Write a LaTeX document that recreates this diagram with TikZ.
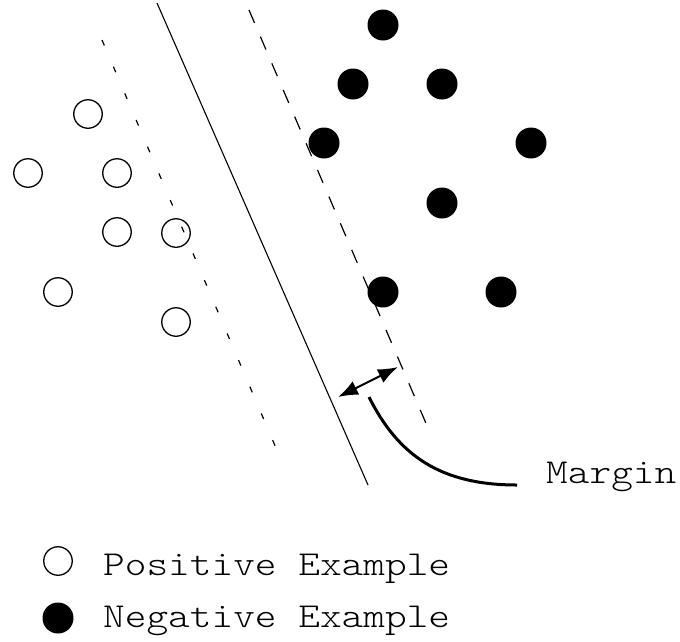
\documentclass[tikz,border=0pt]{standalone}
\usepackage{fontspec}
\newfontfamily\courlike[FakeStretch=1.18]{Latin Modern Mono Light}
\usetikzlibrary{arrows.meta}
\begin{document}
\begin{tikzpicture}[x=1pt,y=-1pt,
  posex/.style={circle,draw,line width=1.3pt,minimum size=28.5pt,inner sep=0pt},
  negex/.style={circle,fill=black,minimum size=31pt,inner sep=0pt},
  lbl/.style={font=\fontsize{35}{35}\selectfont\courlike,inner sep=0pt,anchor=base west},
  hyper/.style={line width=1.1pt},
  leftmargin/.style={line width=1.2pt,dash pattern=on 6pt off 23pt},
  rightmargin/.style={line width=1.2pt,dash pattern=on 14pt off 15pt},
  dim/.style={line width=2pt,{Latex[length=20pt,width=15pt]}-{Latex[length=20pt,width=15pt]}},
  pointer/.style={line width=3pt}]
\useasboundingbox (0,0) rectangle (680,641);
% positive examples
\node[posex] (p1) at (88,114) {};
\node[posex] (p2) at (28,173) {};
\node[posex] (p3) at (117,173) {};
\node[posex] (p4) at (117,232) {};
\node[posex] (p5) at (176,233) {};
\node[posex] (p6) at (58,292) {};
\node[posex] (p7) at (176,322) {};
% negative examples
\node[negex] (n1) at (383,25) {};
\node[negex] (n2) at (353,84) {};
\node[negex] (n3) at (442,84) {};
\node[negex] (n4) at (324,143) {};
\node[negex] (n5) at (531,143) {};
\node[negex] (n6) at (442,203) {};
\node[negex] (n7) at (383,292) {};
\node[negex] (n8) at (501,292) {};
% hyperplane and margins
\coordinate (h1) at (157,3);
\coordinate (h2) at (368,485);
\draw[hyper] (h1) -- (h2);
\coordinate (l1) at (102,40);
\coordinate (l2) at (279,455);
\draw[leftmargin] (l1) -- (l2);
\coordinate (r1) at (249,10);
\coordinate (r2) at (428,428);
\draw[rightmargin] (r1) -- (r2);
% margin arrow
\coordinate (a1) at (338,397);
\coordinate (a2) at (398,367);
\draw[dim] (a1) -- (a2);
% label and pointer
\node[lbl] (margin) at (546,483) {Margin};
\coordinate (c1) at (369,397);
\coordinate (c2) at (517,485);
\draw[pointer] (c1) .. controls (398,455) and (440,485) .. (c2);
% legend
\node[posex] (lp) at (58,561) {};
\node[lbl] (tp) at (103,575) {Positive Example};
\node[negex] (ln) at (58,618) {};
\node[lbl] (tn) at (103,627) {Negative Example};
\end{tikzpicture}
\end{document}
